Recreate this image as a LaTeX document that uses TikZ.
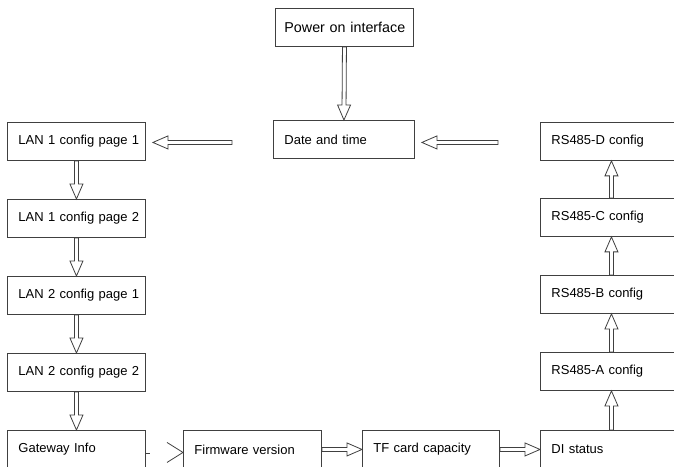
\documentclass[tikz,border=0pt]{standalone}
\usepackage{fontspec}
\setmainfont{Liberation Sans}
\usetikzlibrary{calc}
\definecolor{linegray}{HTML}{404040}
\newlength{\boxpadlen}
\tikzset{
  pad/.code={\setlength{\boxpadlen}{#1}},
  box/.style={draw=linegray, line width=0.9bp, rectangle, minimum height=38bp,
    text width=#1, minimum width=#1, inner xsep=0pt, inner ysep=0pt, align=left,
    anchor=north west, font=\fontsize{13bp}{15bp}\selectfont, pad=11bp,
    execute at begin node={\hspace*{\boxpadlen}}},
  arrowline/.style={draw=linegray, line width=0.8bp, line join=miter},
}
\newcommand{\blockarrow}[2]{%
  \path (#1) coordinate (ba-s);
  \path (#2) coordinate (ba-e);
  \coordinate (ba-b) at ($(ba-e)!15bp!(ba-s)$);
  \draw[arrowline] ($(ba-s)!2bp!90:(ba-e)$) -- ($(ba-b)!2bp!-90:(ba-s)$)
    -- ($(ba-b)!6.5bp!-90:(ba-s)$) -- (ba-e) -- ($(ba-b)!6.5bp!90:(ba-s)$)
    -- ($(ba-b)!2bp!90:(ba-s)$) -- ($(ba-s)!2bp!-90:(ba-e)$) -- cycle;
}
\begin{document}
\begin{tikzpicture}[x=1bp, y=-1bp]
\useasboundingbox (0,0) rectangle (674,467);
\fill[white] (0,0) rectangle (674,467);
\clip (0,0) rectangle (674,467);

% top
\node[box=138bp, font=\fontsize{14.3bp}{16bp}\selectfont, pad=9bp] (power) at (275,8) {Power on interface};
\node[box=141bp] (date) at (273,120) {Date and time};

% left column
\node[box=138bp] (lan11) at (7,122) {LAN 1 config page 1};
\node[box=138bp] (lan12) at (7,199) {LAN 1 config page 2};
\node[box=138bp] (lan21) at (7,276) {LAN 2 config page 1};
\node[box=138bp] (lan22) at (7,353) {LAN 2 config page 2};
\node[box=138bp] (gw) at (7,430) {Gateway Info};

% bottom row
\node[box=138bp] (fw) at (183,430) {Firmware version};
\node[box=137bp] (tf) at (362,430) {TF card capacity};

% right column
\node[box=142bp] (di) at (540,430) {DI status};
\node[box=142bp] (rsa) at (540,352) {RS485-A config};
\node[box=142bp] (rsb) at (540,275) {RS485-B config};
\node[box=142bp] (rsc) at (540,198) {RS485-C config};
\node[box=142bp] (rsd) at (540,122) {RS485-D config};

% arrows
\blockarrow{power.south}{date.north}
\blockarrow{$(lan11.east -| date.west)+(-41,1)$}{$(lan11.east)+(7,1)$}
\blockarrow{$(rsd.west)+(-42,1)$}{$(date.east |- rsd.west)+(7,1)$}

\blockarrow{lan11.south}{lan12.north}
\blockarrow{lan12.south}{lan21.north}
\blockarrow{lan21.south}{lan22.north}
\blockarrow{lan22.south}{gw.north}

\draw[arrowline] ($(gw.east)+(0,4)$) -- ++(4,0);
\draw[arrowline] ($(fw.west)+(-16,-7)$) -- ($(fw.west)+(0,3)$) -- ($(fw.west)+(-16,13)$);

\blockarrow{fw.east}{tf.west}
\blockarrow{tf.east}{di.west}

\blockarrow{di.north}{rsa.south}
\blockarrow{rsa.north}{rsb.south}
\blockarrow{rsb.north}{rsc.south}
\blockarrow{rsc.north}{rsd.south}
\end{tikzpicture}
\end{document}
